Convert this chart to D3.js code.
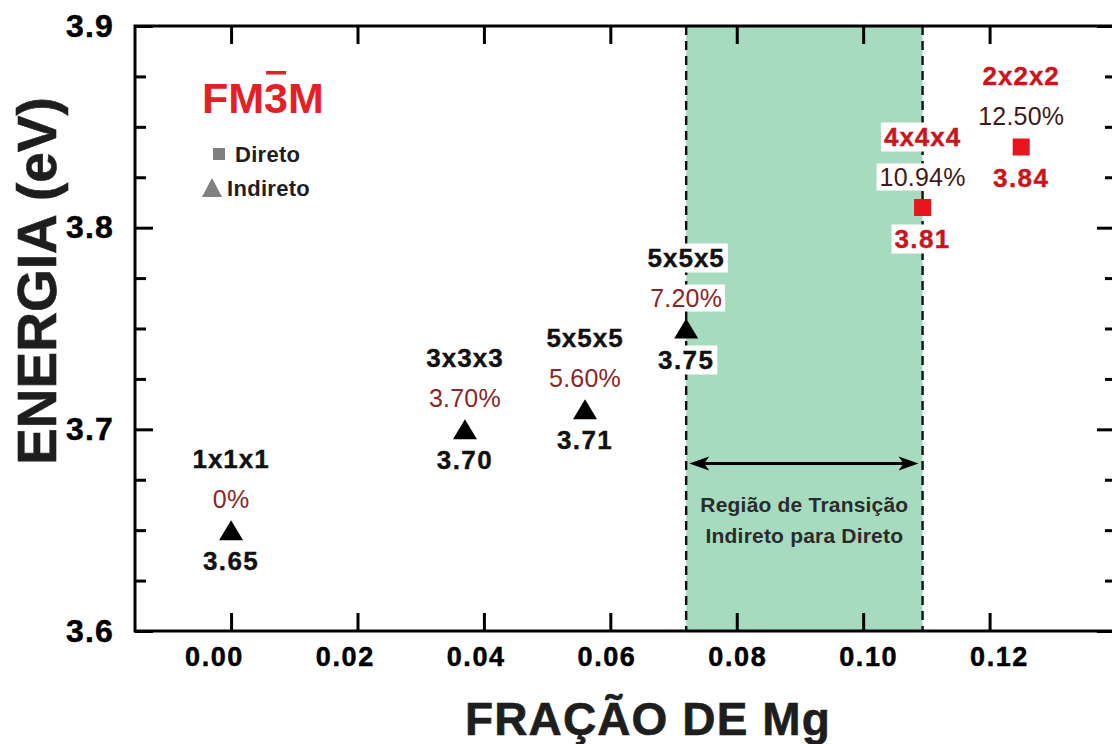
<!DOCTYPE html>
<html>
<head>
<meta charset="utf-8">
<script src="https://cdn.jsdelivr.net/npm/d3@7"></script>
<style>
  body { margin: 0; background: #fff; }
  svg { display: block; }
  text { font-family: "Liberation Sans", Arial, Helvetica, sans-serif; }
</style>
</head>
<body>
<svg id="chart" width="1112" height="744"></svg>
<script>
// Band gap of Mg-doped supercells (Fm-3m) versus Mg fraction
const mgFraction    = [0, 0.037, 0.056, 0.072, 0.1094, 0.125];
const bandGap       = [3.65, 3.70, 3.71, 3.75, 3.81, 3.84];
const supercells    = ["1x1x1", "3x3x3", "5x5x5", "5x5x5", "4x4x4", "2x2x2"];
const percentLabels = ["0%", "3.70%", "5.60%", "7.20%", "10.94%", "12.50%"];
const gapKinds      = ["Indireto", "Indireto", "Indireto", "Indireto", "Direto", "Direto"];
const valueLabels   = ["3.65", "3.70", "3.71", "3.75", "3.81", "3.84"];

const xTickValues = [0, 0.02, 0.04, 0.06, 0.08, 0.10, 0.12];
const yTickValues = [3.6, 3.7, 3.8, 3.9];
const yMinorTicks = [3.625, 3.65, 3.675, 3.725, 3.75, 3.775, 3.825, 3.85, 3.875];
const transitionRange = [0.072, 0.1094];
const transitionArrowLevel = 3.683;
const transitionText = ["Região de Transição", "Indireto para Direto"];
const legendItems = ["Direto", "Indireto"];

const svg = d3.select("#chart");
const plotLeft = 135, plotRight = 1116, plotTop = 26, plotBottom = 631;

const x = d3.scaleLinear().domain([-0.0152, 0.140]).range([plotLeft, plotRight]);
const y = d3.scaleLinear().domain([3.6, 3.9]).range([plotBottom, plotTop]);
// tick labels along the bottom are spread slightly wider than the ticks
const xLabelPos = d3.scaleLinear().domain([0, 0.12]).range([214, 999]);

const trianglePath = (w, h) => `M0,${-h / 2}L${w / 2},${h / 2}L${-w / 2},${h / 2}Z`;

// transition band
const band = svg.append("g");
band.append("rect")
  .attr("x", x(transitionRange[0]))
  .attr("y", plotTop)
  .attr("width", x(transitionRange[1]) - x(transitionRange[0]))
  .attr("height", plotBottom - plotTop)
  .attr("fill", "#a7dbbf");
band.selectAll("line.edge").data(transitionRange).join("line")
  .attr("class", "edge")
  .attr("x1", d => x(d)).attr("x2", d => x(d))
  .attr("y1", plotTop).attr("y2", plotBottom)
  .attr("stroke", "#111").attr("stroke-width", 2.4)
  .attr("stroke-dasharray", "9,6");

// double arrow across the band
const ay = y(transitionArrowLevel);
const ax0 = x(transitionRange[0]) + 3, ax1 = x(transitionRange[1]) - 4;
band.append("line")
  .attr("x1", ax0 + 10).attr("x2", ax1 - 10)
  .attr("y1", ay).attr("y2", ay)
  .attr("stroke", "#000").attr("stroke-width", 3);
band.append("path")
  .attr("d", `M${ax0},${ay}L${ax0 + 20},${ay - 7}L${ax0 + 15},${ay}L${ax0 + 20},${ay + 7}Z`)
  .attr("fill", "#000");
band.append("path")
  .attr("d", `M${ax1},${ay}L${ax1 - 20},${ay - 7}L${ax1 - 15},${ay}L${ax1 - 20},${ay + 7}Z`)
  .attr("fill", "#000");

const bandMid = (x(transitionRange[0]) + x(transitionRange[1])) / 2;
band.selectAll("text.tr").data(transitionText).join("text")
  .attr("class", "tr")
  .attr("x", bandMid)
  .attr("y", (d, i) => ay + 48 + i * 31)
  .attr("text-anchor", "middle")
  .attr("font-size", 21)
  .attr("font-weight", "bold")
  .attr("letter-spacing", 0.2)
  .attr("fill", "#2b2b2b")
  .text(d => d);

// data points with their labels
const points = mgFraction.map((f, i) => ({
  f, e: bandGap[i], cell: supercells[i], pct: percentLabels[i],
  kind: gapKinds[i], val: valueLabels[i]
}));

const pg = svg.append("g").selectAll("g.pt").data(points).join("g")
  .attr("class", "pt")
  .attr("transform", d => `translate(${x(d.f)},${y(d.e)})`);

const labelSpec = [
  { key: "cell", dy: -62, weight: "bold", size: 26, ls: 1.0, sw: 0.4, color: d => d.kind === "Direto" ? "#c9161d" : "#111" },
  { key: "pct",  dy: -22, weight: "normal", size: 25, ls: 0.2, sw: 0, color: d => d.kind === "Direto" ? "#3e1a1a" : "#8a2626" },
  { key: "val",  dy: 40,  weight: "bold", size: 26, ls: 1.4, sw: 0.4, color: d => d.kind === "Direto" ? "#c9161d" : "#111" }
];

labelSpec.forEach(spec => {
  pg.append("rect").attr("fill", "#fff");
  const t = pg.append("text")
    .attr("x", 0).attr("y", spec.dy)
    .attr("text-anchor", "middle")
    .attr("font-size", spec.size)
    .attr("font-weight", spec.weight)
    .attr("letter-spacing", spec.ls)
    .attr("fill", spec.color)
    .attr("stroke", spec.color)
    .attr("stroke-width", spec.sw)
    .text(d => d[spec.key]);
  t.each(function () {
    const b = this.getBBox();
    d3.select(this.previousSibling)
      .attr("x", b.x - 3).attr("y", b.y + 1)
      .attr("width", b.width + 6).attr("height", b.height - 1);
  });
});

pg.filter(d => d.kind === "Indireto").append("path")
  .attr("d", trianglePath(24, 20))
  .attr("fill", "#000");
pg.filter(d => d.kind === "Direto").append("rect")
  .attr("x", -8.5).attr("y", -8.5).attr("width", 17).attr("height", 17)
  .attr("fill", "#e8141c");

// frame and ticks
const axes = svg.append("g");
const xb = axes.append("g").attr("transform", `translate(0,${plotBottom})`)
  .call(d3.axisBottom(x).tickValues(xTickValues).tickSize(-18).tickSizeOuter(0)
    .tickPadding(16).tickFormat(d3.format(".2f")));
axes.append("g").attr("transform", `translate(0,${plotTop})`)
  .call(d3.axisTop(x).tickValues(xTickValues).tickSize(-18).tickSizeOuter(0).tickFormat(""));
const yl = axes.append("g").attr("transform", `translate(${plotLeft},0)`)
  .call(d3.axisLeft(y).tickValues(yTickValues).tickSize(-18).tickSizeOuter(0)
    .tickPadding(21).tickFormat(d3.format(".1f")));
axes.append("g").attr("transform", `translate(${plotLeft},0)`)
  .call(d3.axisLeft(y).tickValues(yMinorTicks).tickSize(-11).tickSizeOuter(0).tickFormat(""));
axes.append("g").attr("transform", `translate(${plotRight},0)`)
  .call(d3.axisRight(y).tickValues(yTickValues).tickSize(-19).tickSizeOuter(0).tickFormat(""));
axes.append("g").attr("transform", `translate(${plotRight},0)`)
  .call(d3.axisRight(y).tickValues(yMinorTicks).tickSize(-11).tickSizeOuter(0).tickFormat(""));

axes.selectAll(".domain").remove();
axes.selectAll(".tick line").attr("stroke", "#000").attr("stroke-width", 3);
xb.selectAll(".tick text")
  .attr("x", d => xLabelPos(d) - x(d))
  .attr("font-size", 27).attr("font-weight", "bold").attr("letter-spacing", 1.6)
  .attr("fill", "#000").attr("stroke", "#000").attr("stroke-width", 0.5)
  .attr("font-family", "Liberation Sans, Arial, sans-serif");
yl.selectAll(".tick text")
  .attr("font-size", 32).attr("font-weight", "bold").attr("letter-spacing", 1.2)
  .attr("fill", "#000").attr("stroke", "#000").attr("stroke-width", 0.5)
  .attr("font-family", "Liberation Sans, Arial, sans-serif");

axes.append("rect")
  .attr("x", plotLeft).attr("y", plotTop)
  .attr("width", plotRight - plotLeft).attr("height", plotBottom - plotTop)
  .attr("fill", "none").attr("stroke", "#000").attr("stroke-width", 3);

// axis titles
svg.append("text")
  .attr("x", 648).attr("y", 735)
  .attr("text-anchor", "middle")
  .attr("font-size", 46).attr("font-weight", "bold")
  .attr("letter-spacing", 1.1)
  .attr("fill", "#1e1e1e").attr("stroke", "#1e1e1e").attr("stroke-width", 0.6)
  .text("FRAÇÃO DE Mg");
svg.append("text")
  .attr("transform", "translate(56,281) rotate(-90)")
  .attr("text-anchor", "middle")
  .attr("font-size", 55).attr("font-weight", "bold")
  .attr("fill", "#1e1e1e").attr("stroke", "#1e1e1e").attr("stroke-width", 0.6)
  .text("ENERGIA (eV)");

// space group tag with bar over the 3
const sg = svg.append("text")
  .attr("x", 202).attr("y", 113)
  .attr("font-size", 43).attr("font-weight", "bold")
  .attr("fill", "#e41f26")
  .text("FM3M");
const c3 = sg.node().getExtentOfChar(2);
svg.append("rect")
  .attr("x", c3.x + 2).attr("y", 71)
  .attr("width", c3.width - 4).attr("height", 3.5)
  .attr("fill", "#e41f26");

// legend
const lg = svg.append("g");
lg.append("rect").attr("x", 213).attr("y", 148).attr("width", 12).attr("height", 12).attr("fill", "#7f7f7f");
lg.append("path").attr("transform", "translate(212,187.5)").attr("d", trianglePath(20, 19)).attr("fill", "#808080");
lg.selectAll("text").data(legendItems).join("text")
  .attr("x", (d, i) => i === 0 ? 235 : 227)
  .attr("y", (d, i) => i === 0 ? 162 : 196)
  .attr("font-size", 22).attr("font-weight", "bold")
  .attr("letter-spacing", 0.3)
  .attr("fill", "#1e1e1e")
  .text(d => d);
</script>
</body>
</html>
